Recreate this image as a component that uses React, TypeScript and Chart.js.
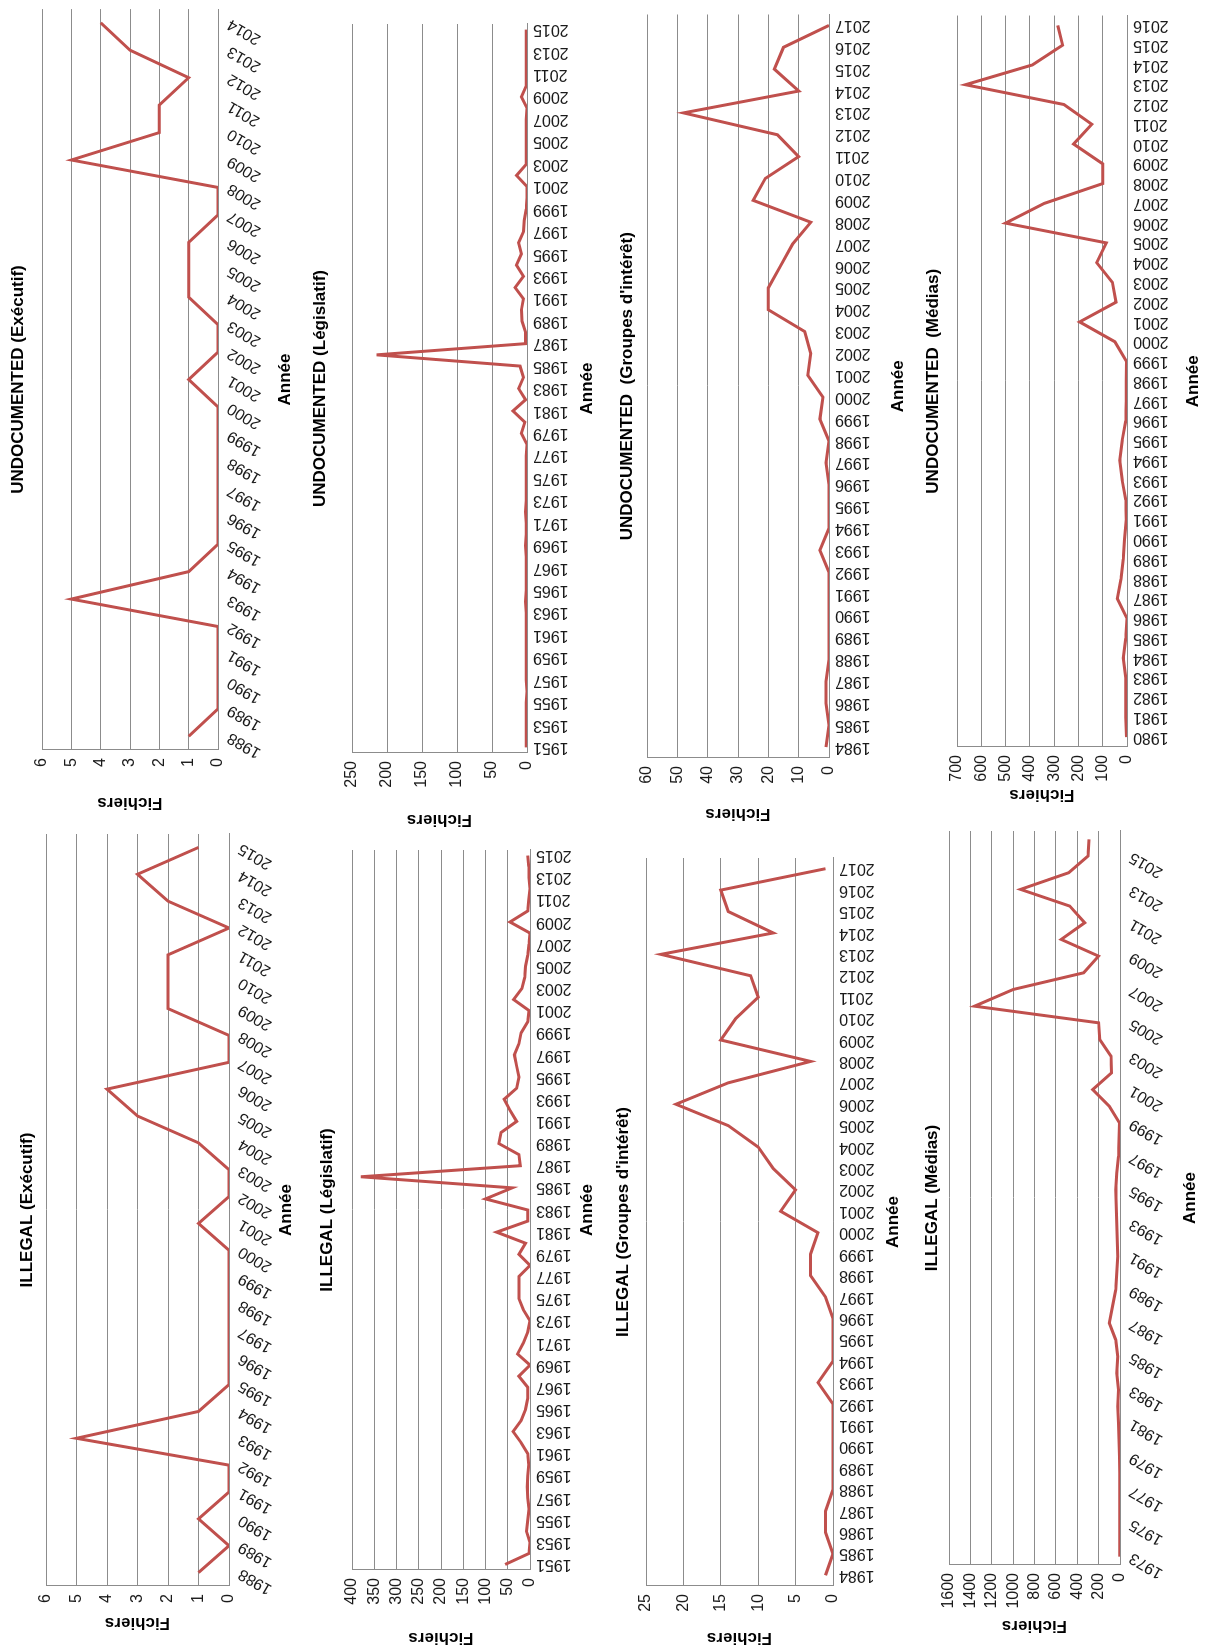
import React, { useEffect, useRef } from 'react';
import { Chart, registerables } from 'chart.js';

Chart.register(...registerables);

// ---------- categories (years) ----------
const yearRange = (a: number, b: number): string[] => {
  const r: string[] = [];
  for (let y = a; y <= b; y++) r.push(String(y));
  return r;
};

const YEARS_EXEC_ILLEGAL = yearRange(1988, 2015);
const YEARS_EXEC_UNDOC = yearRange(1988, 2014);
const YEARS_LEG = yearRange(1951, 2015);
const YEARS_GROUPES = yearRange(1984, 2017);
const YEARS_MEDIAS_ILLEGAL = yearRange(1973, 2016);
const YEARS_MEDIAS_UNDOC = yearRange(1980, 2016);

// ---------- series values (Fichiers) ----------
const ILLEGAL_EXEC = [1, 0, 1, 0, 0, 5, 1, 0, 0, 0, 0, 0, 0, 1, 0, 0, 1, 3, 4, 0, 0, 2, 2, 2, 0, 2, 3, 1];
const UNDOC_EXEC = [1, 0, 0, 0, 0, 5, 1, 0, 0, 0, 0, 0, 0, 1, 0, 0, 1, 1, 1, 0, 0, 5, 2, 2, 1, 3, 4];

const ILLEGAL_LEG = [
  56, 2, 0, 8, 5, 2, 5, 6, 5, 3,
  5, 20, 38, 20, 10, 5, 5, 25, 0, 28,
  15, 5, 0, 15, 25, 25, 25, 0, 25, 10,
  75, 5, 5, 100, 40, 380, 22, 25, 70, 65,
  30, 45, 58, 30, 25, 30, 35, 25, 20, 5,
  2, 37, 18, 12, 10, 5, 2, 0, 45, 5,
  3, 0, 2, 3, 5,
];
const UNDOC_LEG = [
  1, 1, 1, 1, 1, 0, 1, 1, 1, 1,
  1, 1, 1, 2, 1, 1, 1, 1, 2, 1,
  1, 2, 1, 1, 1, 1, 1, 0, 8, 3,
  20, 2, 12, 5, 10, 215, 2, 2, 7, 8,
  5, 17, 5, 15, 8, 12, 5, 4, 1, 0,
  0, 15, 1, 1, 1, 1, 1, 0, 8, 1,
  1, 1, 1, 1, 1,
];

const ILLEGAL_GROUPES = [1, 0, 1, 1, 0, 0, 0, 0, 0, 2, 0, 0, 0, 1, 3, 3, 2, 7, 5, 8, 10, 14, 21, 14, 3, 15, 13, 10, 11, 23, 8, 14, 15, 1];
const UNDOC_GROUPES = [1, 0, 1, 1, 0, 0, 0, 0, 0, 3, 0, 0, 0, 1, 0, 3, 2, 7, 6, 8, 20, 20, 16, 12, 6, 25, 21, 10, 17, 48, 10, 18, 15, 0];

const ILLEGAL_MEDIAS = [
  3, 3, 3, 3, 3, 3, 5, 10, 15, 20,
  15, 30, 20, 40, 100, 70, 40, 30, 20, 25,
  30, 35, 40, 30, 15, 10, 5, 100, 255, 80,
  85, 190, 200, 1360, 1000, 340, 200, 550, 330, 470,
  930, 480, 300, 290,
];
const UNDOC_MEDIAS = [
  2, 5, 5, 5, 15, 5, 0, 40, 25, 15,
  10, 3, 5, 20, 30, 20, 5, 3, 3, 2,
  50, 195, 45, 60, 125, 85, 500, 340, 100, 100,
  220, 145, 260, 665, 390, 265, 285,
];

// ---------- axis settings ----------
const MAX_EXEC = 6, STEP_EXEC = 1;
const MAX_LEG_ILLEGAL = 400, MAX_LEG_UNDOC = 250, STEP_LEG = 50;
const MAX_GROUPES_ILLEGAL = 25, STEP_GROUPES_ILLEGAL = 5;
const MAX_GROUPES_UNDOC = 60, STEP_GROUPES_UNDOC = 10;
const MAX_MEDIAS_ILLEGAL = 1600, STEP_MEDIAS_ILLEGAL = 200;
const MAX_MEDIAS_UNDOC = 700, STEP_MEDIAS_UNDOC = 100;

// ---------- layout (upright frame, 1648 x 1207, rotated onto page) ----------
const ROW_TOPS = [0, 300, 600, 897];
const CELL_H = 310;
const COL_LEFT = [0, 812];
const COL_W = [830, 836];

type Geom = {
  col: number; row: number;
  plotL: number; plotR: number; plotT: number; plotB: number;
  titleC: number; anneeC: number; fichC: number;
};

type Spec = {
  title: string;
  labels: string[];
  values: number[];
  max: number;
  step: number;
  rotation: number;
  every: number;
  geom: Geom;
};

const SPECS: Spec[] = [
  {
    title: 'ILLEGAL (Exécutif)', labels: YEARS_EXEC_ILLEGAL, values: ILLEGAL_EXEC,
    max: MAX_EXEC, step: STEP_EXEC, rotation: 60, every: 1,
    geom: { col: 0, row: 0, plotL: 62, plotR: 814, plotT: 46, plotB: 229, titleC: 27, anneeC: 286, fichC: 25 },
  },
  {
    title: 'UNDOCUMENTED (Exécutif)', labels: YEARS_EXEC_UNDOC, values: UNDOC_EXEC,
    max: MAX_EXEC, step: STEP_EXEC, rotation: 60, every: 1,
    geom: { col: 1, row: 0, plotL: 898, plotR: 1643, plotT: 42, plotB: 218, titleC: 18, anneeC: 285, fichC: 845 },
  },
  {
    title: 'ILLEGAL (Législatif)', labels: YEARS_LEG, values: ILLEGAL_LEG,
    max: MAX_LEG_ILLEGAL, step: STEP_LEG, rotation: 90, every: 2,
    geom: { col: 0, row: 1, plotL: 78, plotR: 798, plotT: 352, plotB: 530, titleC: 327, anneeC: 587, fichC: 9 },
  },
  {
    title: 'UNDOCUMENTED (Législatif)', labels: YEARS_LEG, values: UNDOC_LEG,
    max: MAX_LEG_UNDOC, step: STEP_LEG, rotation: 90, every: 2,
    geom: { col: 1, row: 1, plotL: 895, plotR: 1624, plotT: 352, plotB: 527, titleC: 320, anneeC: 587, fichC: 828 },
  },
  {
    title: "ILLEGAL (Groupes d'intérêt)", labels: YEARS_GROUPES, values: ILLEGAL_GROUPES,
    max: MAX_GROUPES_ILLEGAL, step: STEP_GROUPES_ILLEGAL, rotation: 90, every: 1,
    geom: { col: 0, row: 2, plotL: 62, plotR: 790, plotT: 646, plotB: 833, titleC: 623, anneeC: 893, fichC: 10 },
  },
  {
    title: "UNDOCUMENTED  (Groupes d'intérêt)", labels: YEARS_GROUPES, values: UNDOC_GROUPES,
    max: MAX_GROUPES_UNDOC, step: STEP_GROUPES_UNDOC, rotation: 90, every: 1,
    geom: { col: 1, row: 2, plotL: 890, plotR: 1640, plotT: 647, plotB: 829, titleC: 627, anneeC: 898, fichC: 834 },
  },
  {
    title: 'ILLEGAL (Médias)', labels: YEARS_MEDIAS_ILLEGAL, values: ILLEGAL_MEDIAS,
    max: MAX_MEDIAS_ILLEGAL, step: STEP_MEDIAS_ILLEGAL, rotation: 60, every: 2,
    geom: { col: 0, row: 3, plotL: 83, plotR: 817, plotT: 949, plotB: 1120, titleC: 932, anneeC: 1190, fichC: 22 },
  },
  {
    title: 'UNDOCUMENTED  (Médias)', labels: YEARS_MEDIAS_UNDOC, values: UNDOC_MEDIAS,
    max: MAX_MEDIAS_UNDOC, step: STEP_MEDIAS_UNDOC, rotation: 90, every: 1,
    geom: { col: 1, row: 3, plotL: 901, plotR: 1635, plotT: 957, plotB: 1127, titleC: 933, anneeC: 1193, fichC: 853 },
  },
];

const FONT = '"Liberation Sans", Arial, Helvetica, sans-serif';
const LINE_COLOR = '#C0504D';
const GRID_COLOR = '#8c8c8c';
const TEXT_COLOR = '#1a1a1a';
const TITLE_SIZE = 17;
const AXIS_TITLE_SIZE = 17;
const TICK_SIZE = 16;

function Panel({ spec }: { spec: Spec }) {
  const ref = useRef<HTMLCanvasElement | null>(null);
  const g = spec.geom;
  const cellLeft = COL_LEFT[g.col];
  const cellW = COL_W[g.col];
  const cellTop = ROW_TOPS[g.row];

  useEffect(() => {
    if (!ref.current) return;
    const lhT = TITLE_SIZE * 1.2;
    const lhA = AXIS_TITLE_SIZE * 1.2;
    const titlePadTop = Math.max(0, g.titleC - cellTop - lhT / 2);
    const titlePadBottom = Math.max(0, g.plotT - cellTop - lhT - titlePadTop);
    const yWidth = g.plotL - cellLeft;
    const padRight = Math.max(0, cellLeft + cellW - g.plotR);
    const xHeight = cellTop + CELL_H - g.plotB;
    const anneePadBottom = Math.max(0, cellTop + CELL_H - g.anneeC - lhA / 2);
    const fichPadTop = Math.max(0, g.fichC - cellLeft - lhA / 2);
    const labels = spec.labels;
    const every = spec.every;

    const chart = new Chart(ref.current, {
      type: 'line',
      data: {
        labels,
        datasets: [
          {
            data: spec.values,
            borderColor: LINE_COLOR,
            backgroundColor: LINE_COLOR,
            borderWidth: 3,
            pointRadius: 0,
            pointHoverRadius: 0,
            tension: 0,
            fill: false,
          },
        ],
      },
      options: {
        animation: false,
        responsive: false,
        devicePixelRatio: 1,
        layout: { padding: { left: 0, right: padRight, top: 0, bottom: 0 } },
        plugins: {
          legend: { display: false },
          tooltip: { enabled: false },
          title: {
            display: true,
            text: spec.title,
            fullSize: false,
            color: '#000',
            font: { family: FONT, size: TITLE_SIZE, weight: 'bold' },
            padding: { top: titlePadTop, bottom: titlePadBottom },
          },
        },
        scales: {
          x: {
            type: 'category',
            offset: true,
            grid: { display: false, drawTicks: false },
            border: { display: true, color: GRID_COLOR, width: 1 },
            ticks: {
              autoSkip: false,
              minRotation: spec.rotation,
              maxRotation: spec.rotation,
              padding: 6,
              color: TEXT_COLOR,
              font: { family: FONT, size: TICK_SIZE },
              callback: (_v: any, i: number) => (i % every === 0 ? labels[i] : null),
            },
            title: {
              display: true,
              text: 'Année',
              color: '#000',
              font: { family: FONT, size: AXIS_TITLE_SIZE, weight: 'bold' },
              padding: { top: 0, bottom: anneePadBottom },
            },
            afterFit: (s: any) => {
              s.height = xHeight;
            },
          },
          y: {
            min: 0,
            max: spec.max,
            grid: { color: GRID_COLOR, lineWidth: 1, drawTicks: false },
            border: { display: true, color: GRID_COLOR, width: 1 },
            ticks: {
              stepSize: spec.step,
              autoSkip: false,
              padding: 8,
              color: TEXT_COLOR,
              font: { family: FONT, size: TICK_SIZE },
              callback: (v: any) => String(v),
            },
            title: {
              display: true,
              text: 'Fichiers',
              color: '#000',
              font: { family: FONT, size: AXIS_TITLE_SIZE, weight: 'bold' },
              padding: { top: fichPadTop, bottom: 0 },
            },
            afterFit: (s: any) => {
              s.width = yWidth;
            },
          },
        },
      } as any,
    });
    return () => chart.destroy();
  }, [spec]);

  return (
    <canvas
      ref={ref}
      width={cellW}
      height={CELL_H}
      style={{ position: 'absolute', left: cellLeft, top: cellTop, width: cellW, height: CELL_H }}
    />
  );
}

export default function App() {
  useEffect(() => {
    document.body.style.margin = '0';
    document.body.style.overflow = 'hidden';
    document.body.style.background = '#ffffff';
  }, []);
  return (
    <div
      style={{
        position: 'absolute',
        left: 0,
        top: 0,
        width: 1648,
        height: 1207,
        background: '#ffffff',
        transformOrigin: '0 0',
        transform: 'translate(0px, 1648px) rotate(-90deg)',
      }}
    >
      {SPECS.map((s, i) => (
        <Panel key={i} spec={s} />
      ))}
    </div>
  );
}
